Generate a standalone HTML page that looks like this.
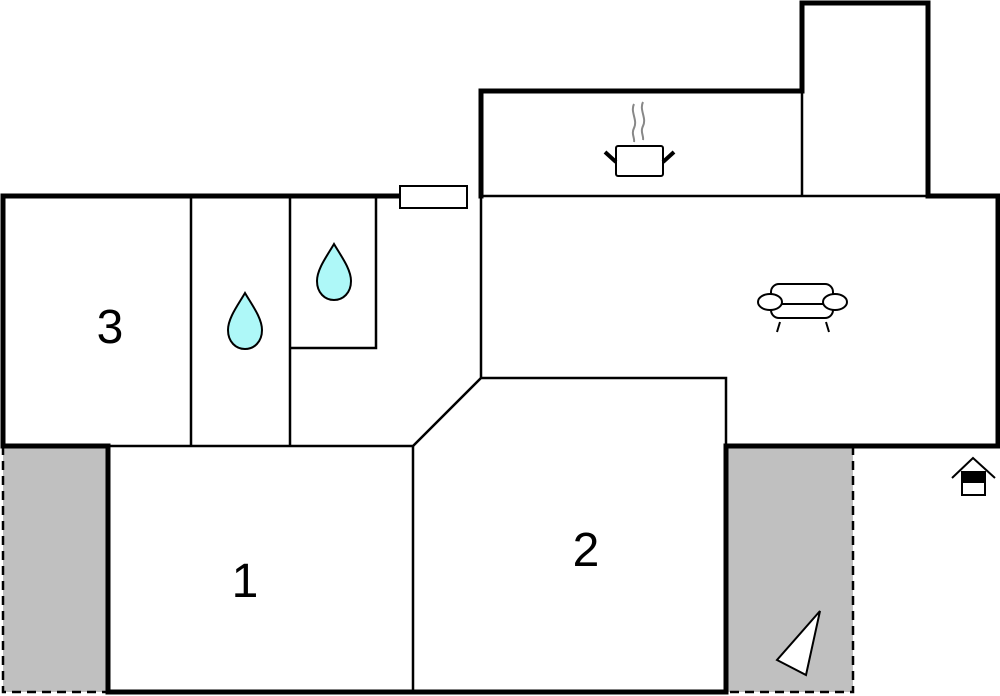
<!DOCTYPE html>
<html><head><style>body{margin:0;background:#fff}svg{display:block}</style></head><body>
<svg width="1000" height="696" viewBox="0 0 1000 696" xmlns="http://www.w3.org/2000/svg">
<rect x="3" y="446" width="105" height="246" fill="#c0c0c0"/>
<rect x="726" y="446" width="127" height="246" fill="#c0c0c0"/>
<g stroke="#000" stroke-width="2.5" stroke-dasharray="9,6" fill="none">
<path d="M3 446 V692 H108"/>
<path d="M853 446 V692 H726"/>
</g>
<g stroke="#000" stroke-width="2.5" fill="none">
<path d="M108 446 H413 L481 378 H726 V446"/>
<path d="M413 446 V692"/>
<path d="M481 196 H928"/>
<path d="M481 196 V378"/>
<path d="M802 91 V196"/>
<path d="M191 196 V446 M290 196 V446 M290 348 H376 V196"/>
</g>
<g stroke="#000" stroke-width="5" fill="none" stroke-linecap="square">
<path d="M400 196 H3 V446 H108 V692 H726 V446 H998 V196 H928 V3 H802 V91 H481 V196"/>
</g>
<rect x="400" y="186" width="67" height="22" fill="#fff" stroke="#000" stroke-width="2"/>
<g fill="#aef8f8" stroke="#000" stroke-width="2">
<path d="M245 293 C238 305 228 318 228 330 C228 342 236 349 245 349 C254 349 262 342 262 330 C262 318 252 305 245 293 Z"/>
<path d="M334 244 C327 256 317 269 317 281 C317 293 325 300 334 300 C343 300 351 293 351 281 C351 269 341 256 334 244 Z"/>
</g>
<g font-family="Liberation Sans, sans-serif" font-size="48" text-anchor="middle">
<text x="110" y="343">3</text>
<text x="245" y="597">1</text>
<text x="586" y="566">2</text>
</g>
<!-- pot -->
<g stroke="#888" stroke-width="2" fill="none">
<path d="M634 104 C630 112 638 120 634 128 C631 134 635 138 634 142"/>
<path d="M643 102 C639 110 647 118 643 126 C640 132 644 136 643 140"/>
</g>
<rect x="616" y="146" width="47" height="30" rx="2" fill="#fff" stroke="#000" stroke-width="2"/>
<path d="M605 152 L616 162 M674 152 L663 162" stroke="#000" stroke-width="4"/>
<!-- sofa -->
<g stroke="#000" stroke-width="2" fill="#fff">
<rect x="771" y="284" width="62" height="34" rx="8"/>
<path d="M782 304 H823"/>
<ellipse cx="770" cy="302" rx="12" ry="8"/>
<ellipse cx="835" cy="302" rx="12" ry="8"/>
<path d="M780 322 L777 332 M826 322 L829 332"/>
</g>
<!-- entrance -->
<path d="M952 478 L973 458 L995 478" stroke="#000" stroke-width="2" fill="none"/>
<rect x="962" y="472" width="23" height="23" fill="#fff" stroke="#000" stroke-width="2"/>
<rect x="962" y="472" width="23" height="11" fill="#000"/>
<!-- north arrow -->
<path d="M820 611 L806 675 L777 660 Z" fill="#fff" stroke="#000" stroke-width="2"/>
</svg>
</body></html>
